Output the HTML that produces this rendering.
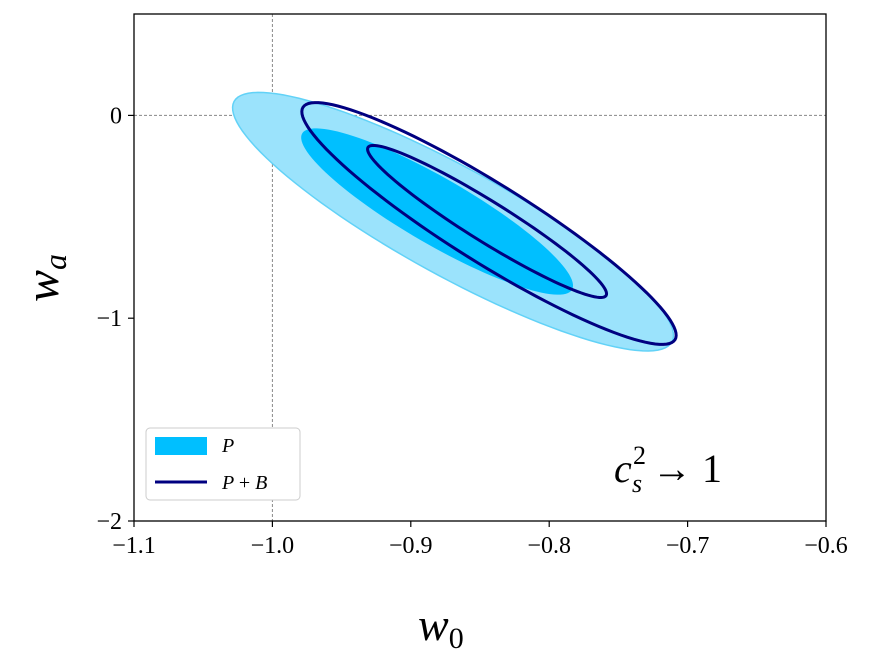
<!DOCTYPE html>
<html><head><meta charset="utf-8"><style>
body{margin:0;background:#fff}
svg{display:block}
text{font-family:"Liberation Serif",serif;fill:#000}
</style></head><body>
<svg width="875" height="663" xmlns="http://www.w3.org/2000/svg">
<g id="plot"></g>
</svg>
<script>
const xTicks=[-1.1,-1.0,-0.9,-0.8,-0.7,-0.6];
const xTickLabels=["\u22121.1","\u22121.0","\u22120.9","\u22120.8","\u22120.7","\u22120.6"];
const yTicks=[0,-1,-2];
const yTickLabels=["0","\u22121","\u22122"];
// contour ellipses: center (w0, wa), major half-vector, minor half-vector (data units)
const contourNames=["p-2sigma","p-1sigma","pb-2sigma","pb-1sigma"];
const centerW0=[-0.8695,-0.881,-0.8435,-0.8449];
const centerWa=[-0.524,-0.474,-0.533,-0.523];
const majorW0=[0.1582,0.0975,0.1344,0.086];
const majorWa=[-0.5926,-0.385,-0.573,-0.3654];
const minorW0=[-0.0185,-0.0119,-0.0150,-0.0077];
const minorWa=[-0.235,-0.141,-0.165,-0.084];

const L=134,R=826,T=14,B=521,x0=-1.1,x1=-0.6,y0=-2,y1=0.5;
const sx=v=>L+(v-x0)/(x1-x0)*(R-L);
const sy=v=>B-(v-y0)/(y1-y0)*(B-T);
const NS="http://www.w3.org/2000/svg";
const g=document.getElementById('plot');
function mk(tag,attrs,parent){const e=document.createElementNS(NS,tag);for(const k in attrs)e.setAttribute(k,attrs[k]);(parent||g).appendChild(e);return e;}
function ell(i){
 let d='';
 for(let k=0;k<=120;k++){const t=k/120*2*Math.PI;
  const x=centerW0[i]+majorW0[i]*Math.cos(t)+minorW0[i]*Math.sin(t);
  const y=centerWa[i]+majorWa[i]*Math.cos(t)+minorWa[i]*Math.sin(t);
  d+=(k?'L':'M')+sx(x).toFixed(2)+','+sy(y).toFixed(2);}
 return d+'Z';}
let e=mk('line',{x1:sx(-1),x2:sx(-1),y1:T,y2:B,stroke:'#888','stroke-width':1,'stroke-dasharray':'3,2'});

e=mk('line',{x1:L,x2:R,y1:sy(0),y2:sy(0),stroke:'#888','stroke-width':1,'stroke-dasharray':'3,2'});

e=mk('path',{d:ell(0),fill:'#9be3fc',stroke:'#62d2f7','stroke-width':1.5});

e=mk('path',{d:ell(1),fill:'#00bfff',stroke:'none'});

e=mk('path',{d:ell(2),fill:'none',stroke:'#000080','stroke-width':3});

e=mk('path',{d:ell(3),fill:'none',stroke:'#000080','stroke-width':3});

e=mk('rect',{x:L,y:T,width:R-L,height:B-T,fill:'none',stroke:'#000','stroke-width':1.3});

xTicks.forEach((v,i)=>{
 const t=mk('line',{x1:sx(v),x2:sx(v),y1:B,y2:B+6,stroke:'#000','stroke-width':1.2});
 
 const l=mk('text',{x:sx(v),y:B+32,'text-anchor':'middle','font-size':24});l.textContent=xTickLabels[i];
 
});
yTicks.forEach((v,i)=>{
 const t=mk('line',{x1:L-6,x2:L,y1:sy(v),y2:sy(v),stroke:'#000','stroke-width':1.2});
 
 const l=mk('text',{x:L-12,y:sy(v)+8,'text-anchor':'end','font-size':24});l.textContent=yTickLabels[i];
 
});
</script>
<svg style="position:absolute;left:0;top:0" width="875" height="663">
<text x="418" y="640" font-size="46" font-style="italic">w<tspan font-size="30" font-style="normal" dy="8">0</tspan></text>
<text transform="translate(58,302) rotate(-90)" font-size="48" font-style="italic">w<tspan font-size="32" dy="8">a</tspan></text>
<g>
<text x="614" y="482" font-size="40" font-style="italic">c</text>
<text x="632" y="492" font-size="26" font-style="italic">s</text>
<text x="633" y="464" font-size="26">2</text>
<text x="652" y="482" font-size="40">→ 1</text>
</g>
<g>
<rect x="146" y="428" width="154" height="72" rx="4" fill="#fff" stroke="#ccc"/>
<rect x="155" y="437" width="52" height="18" fill="#00bfff"/>
<text x="222" y="452" font-size="20" font-style="italic">P</text>
<line x1="155" y1="482" x2="207" y2="482" stroke="#000080" stroke-width="3"/>
<text x="222" y="489" font-size="20" font-style="italic">P <tspan font-style="normal">+</tspan> B</text>
</g>
</svg>
</body></html>
